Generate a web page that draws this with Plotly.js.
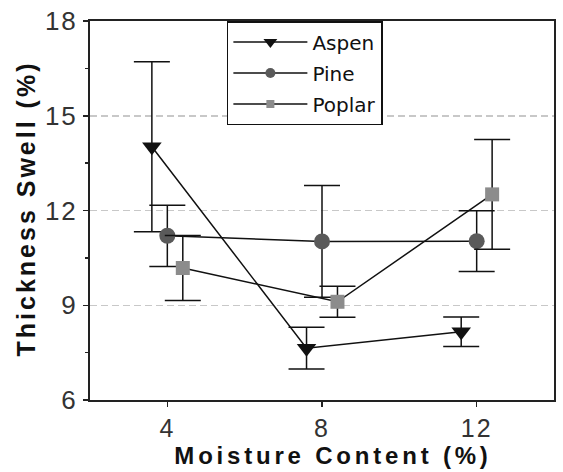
<!DOCTYPE html>
<html>
<head>
<meta charset="utf-8">
<script src="https://cdn.plot.ly/plotly-3.0.1.min.js"></script>
<style>
html,body{margin:0;padding:0;background:#fff;}
#chart{width:563px;height:472px;}
#chart .xtitle{letter-spacing:3.8px;translate:11px 0px;}
#chart .ytitle{letter-spacing:3px;translate:0px -2px;}
#chart .xtick text,#chart .ytick text{letter-spacing:2px;}
</style>
</head>
<body>
<div id="chart"></div>
<script>
// Data
const moisture = [4, 8, 12];
const offsets = {Aspen: -0.4, Pine: 0, Poplar: 0.4};
const aspenSwell = [14.02, 7.64, 8.16];
const aspenErr = [2.69, 0.66, 0.47];
const pineSwell = [11.2, 11.02, 11.03];
const pineErr = [0.97, 1.77, 0.96];
const poplarSwell = [10.18, 9.11, 12.51];
const poplarErr = [1.03, 0.49, 1.74];
const xTicks = [4, 8, 12];
const yTicks = [6, 9, 12, 15, 18];

function mk(name, ys, errs, symbol, color, size) {
  return {
    type: 'scatter', mode: 'lines+markers', name: name, legendgroup: name, showlegend: false,
    x: moisture.map(v => v + offsets[name]), y: ys,
    line: {color: '#111', width: 1.5},
    marker: {symbol: symbol, color: color, size: size},
    error_y: {type: 'data', array: errs, visible: true, color: '#111', thickness: 1.5, width: 18}
  };
}
// legend entries (smaller symbols, like the reference's key)
function key(name, symbol, color, size) {
  return {
    type: 'scatter', mode: 'lines+markers', name: name, legendgroup: name, showlegend: true,
    x: [null], y: [null],
    line: {color: '#111', width: 1.5},
    marker: {symbol: symbol, color: color, size: size}
  };
}

const data = [
  mk('Aspen', aspenSwell, aspenErr, 'triangle-down', '#111', 17),
  mk('Pine', pineSwell, pineErr, 'circle', '#5a5a5a', 16),
  mk('Poplar', poplarSwell, poplarErr, 'square', '#8c8c8c', 14),
  key('Aspen', 'triangle-down', '#111', 12),
  key('Pine', 'circle', '#5a5a5a', 10),
  key('Poplar', 'square', '#8c8c8c', 8)
];

const layout = {
  width: 563, height: 472,
  margin: {l: 90, r: 9, t: 21, b: 72},
  paper_bgcolor: '#fff', plot_bgcolor: '#fff',
  showlegend: true,
  legend: {
    x: 0.295, y: 1, xanchor: 'left', yanchor: 'top',
    bgcolor: '#fff', bordercolor: '#111', borderwidth: 1.5,
    font: {family: 'DejaVu Sans', size: 20, color: '#111'},
    itemwidth: 74, tracegroupgap: 2
  },
  xaxis: {
    range: [2, 14], tickvals: xTicks, ticktext: xTicks.map(String),
    showline: true, linecolor: '#222', linewidth: 2, mirror: true,
    ticks: 'outside', ticklen: 5, tickwidth: 1.5, tickcolor: '#222',
    showgrid: false, zeroline: false,
    tickfont: {family: 'Liberation Sans', size: 25, color: '#333'},
    title: {text: 'Moisture Content (%)', font: {family: 'Liberation Sans', size: 24, color: '#111', weight: 'bold'}, standoff: 4}
  },
  yaxis: {
    range: [6, 18], tickvals: yTicks, ticktext: yTicks.map(String),
    showline: true, linecolor: '#222', linewidth: 2, mirror: true,
    ticks: 'outside', ticklen: 5, tickwidth: 1.5, tickcolor: '#222',
    minor: {dtick: 1.5, tick0: 6, ticks: 'outside', ticklen: 3, tickcolor: '#222', showgrid: false},
    showgrid: true, gridcolor: '#c8c8c8', gridwidth: 1.5, griddash: '7px,4px',
    zeroline: false,
    tickfont: {family: 'Liberation Sans', size: 26, color: '#333'},
    title: {text: 'Thickness Swell (%)', font: {family: 'Liberation Sans', size: 25, color: '#111', weight: 'bold'}, standoff: 6}
  }
};

Plotly.newPlot('chart', data, layout, {displayModeBar: false, staticPlot: true});
</script>
</body>
</html>
